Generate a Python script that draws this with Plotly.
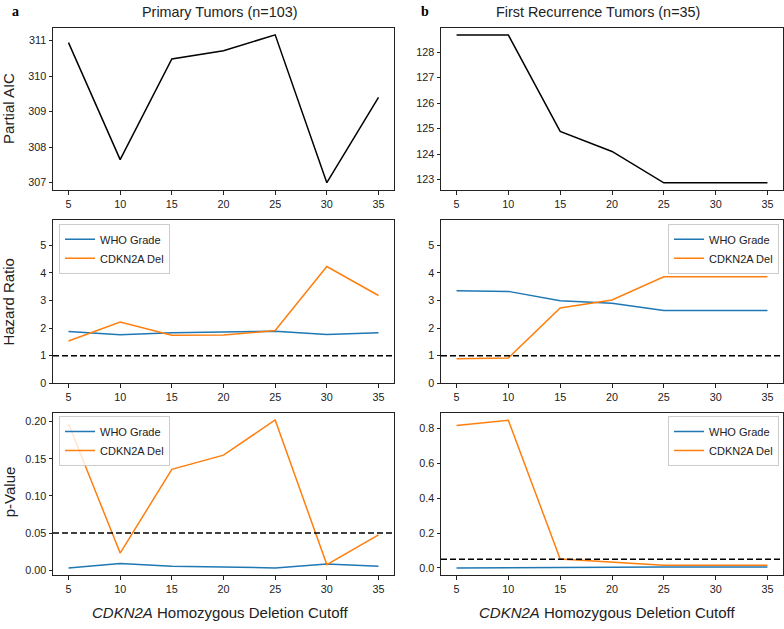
import plotly.graph_objects as go
from plotly.subplots import make_subplots

cutoffs = [5, 10, 15, 20, 25, 30, 35]

# Partial AIC
aic_primary = [310.94, 307.65, 310.48, 310.71, 311.16, 307.0, 309.40]
aic_recur = [128.67, 128.67, 124.89, 124.10, 122.87, 122.87, 122.87]

# Hazard ratios
hr_who_primary = [1.88, 1.76, 1.83, 1.87, 1.89, 1.77, 1.83]
hr_cdkn_primary = [1.53, 2.22, 1.74, 1.75, 1.91, 4.23, 3.18]
hr_who_recur = [3.35, 3.33, 2.99, 2.90, 2.64, 2.64, 2.64]
hr_cdkn_recur = [0.89, 0.92, 2.73, 3.02, 3.86, 3.86, 3.86]

# p-values
p_who_primary = [0.0031, 0.0089, 0.0053, 0.0040, 0.0031, 0.0084, 0.0053]
p_cdkn_primary = [0.197, 0.023, 0.1357, 0.1548, 0.2022, 0.0075, 0.0475]
p_who_recur = [0.000, 0.000, 0.002, 0.004, 0.006, 0.006, 0.006]
p_cdkn_recur = [0.817, 0.847, 0.051, 0.034, 0.015, 0.015, 0.015]

hr_ref = 1.0
p_ref = 0.05

col_titles = ["Primary Tumors (n=103)", "First Recurrence Tumors (n=35)"]
row_titles = ["Partial AIC", "Hazard Ratio", "p-Value"]
series_names = ["WHO Grade", "CDKN2A Del"]

W, H = 784, 629
BLUE = "#1f77b4"
ORANGE = "#ff7f0e"
FONT = "Liberation Sans"
TXT = "#222222"

fig = make_subplots(rows=3, cols=2)

def px_x(a, b):
    return [a / W, b / W]

def px_y(top, bottom):
    return [1 - bottom / H, 1 - top / H]

xdom = [px_x(53, 394), px_x(441, 783)]
ydom = [px_y(28, 192), px_y(222, 387), px_y(417, 581)]

# Row 1
fig.add_trace(go.Scatter(x=cutoffs, y=aic_primary, mode="lines",
                         line=dict(color="black", width=1.5), showlegend=False), row=1, col=1)
fig.add_trace(go.Scatter(x=cutoffs, y=aic_recur, mode="lines",
                         line=dict(color="black", width=1.5), showlegend=False), row=1, col=2)

# Row 2
for col, (who, cd, lg) in enumerate([(hr_who_primary, hr_cdkn_primary, "legend"),
                                      (hr_who_recur, hr_cdkn_recur, "legend2")], start=1):
    fig.add_trace(go.Scatter(x=cutoffs, y=who, mode="lines", name=series_names[0],
                             line=dict(color=BLUE, width=1.5), legend=lg), row=2, col=col)
    fig.add_trace(go.Scatter(x=cutoffs, y=cd, mode="lines", name=series_names[1],
                             line=dict(color=ORANGE, width=1.5), legend=lg), row=2, col=col)
    fig.add_hline(y=hr_ref, line=dict(color="black", width=1.5, dash="6px,3px"), row=2, col=col)

# Row 3
for col, (who, cd, lg) in enumerate([(p_who_primary, p_cdkn_primary, "legend3"),
                                      (p_who_recur, p_cdkn_recur, "legend4")], start=1):
    fig.add_trace(go.Scatter(x=cutoffs, y=who, mode="lines", name=series_names[0],
                             line=dict(color=BLUE, width=1.5), legend=lg), row=3, col=col)
    fig.add_trace(go.Scatter(x=cutoffs, y=cd, mode="lines", name=series_names[1],
                             line=dict(color=ORANGE, width=1.5), legend=lg), row=3, col=col)
    fig.add_hline(y=p_ref, line=dict(color="black", width=1.5, dash="6px,3px"), row=3, col=col)

axis_common = dict(showline=True, mirror=True, linecolor=TXT, linewidth=1,
                   ticks="outside", ticklen=3.5, tickwidth=1, tickcolor=TXT,
                   showgrid=False, zeroline=False,
                   tickfont=dict(family=FONT, size=10.8, color=TXT))

yranges = {
    (1, 1): dict(range=[306.79, 311.36], tickvals=[307, 308, 309, 310, 311]),
    (1, 2): dict(range=[122.58, 128.96], tickvals=[123, 124, 125, 126, 127, 128]),
    (2, 1): dict(range=[0, 5.92], tickvals=[0, 1, 2, 3, 4, 5]),
    (2, 2): dict(range=[0, 5.92], tickvals=[0, 1, 2, 3, 4, 5]),
    (3, 1): dict(range=[-0.0071, 0.2115], tickvals=[0, 0.05, 0.10, 0.15, 0.20], tickformat=".2f"),
    (3, 2): dict(range=[-0.043, 0.889], tickvals=[0, 0.2, 0.4, 0.6, 0.8], tickformat=".1f"),
}

idx = 0
for r in range(1, 4):
    for c in range(1, 3):
        idx += 1
        sfx = "" if idx == 1 else str(idx)
        fig.layout["xaxis" + sfx].update(domain=xdom[c - 1], range=[3.5, 36.5],
                                         tickvals=cutoffs, **axis_common)
        fig.layout["yaxis" + sfx].update(domain=ydom[r - 1], **yranges[(r, c)], **axis_common)

legend_common = dict(bgcolor="rgba(255,255,255,0.8)", bordercolor="#cccccc", borderwidth=1,
                     font=dict(family=FONT, size=11, color=TXT),
                     itemwidth=30, tracegroupgap=0, yanchor="top")

fig.update_layout(
    legend=dict(x=59 / W, y=1 - 226 / H, xanchor="left", **legend_common),
    legend2=dict(x=779 / W, y=1 - 226 / H, xanchor="right", **legend_common),
    legend3=dict(x=59 / W, y=1 - 420 / H, xanchor="left", **legend_common),
    legend4=dict(x=779 / W, y=1 - 420 / H, xanchor="right", **legend_common),
)

annotations = []
# Column titles
for xc, t in zip([220, 598], col_titles):
    annotations.append(dict(x=xc / W, y=1 - 12 / H, xref="paper", yref="paper", text=t,
                            showarrow=False, xanchor="center", yanchor="middle",
                            font=dict(family=FONT, size=14.4, color=TXT)))
# Panel labels
for xc, t in zip([15, 425], ["a", "b"]):
    annotations.append(dict(x=xc / W, y=1 - 12 / H, xref="paper", yref="paper",
                            text="<b>" + t + "</b>", showarrow=False,
                            xanchor="center", yanchor="middle",
                            font=dict(family="Liberation Serif", size=14, color="black")))
# Row titles
for yc, t in zip([110, 304.5, 497], row_titles):
    annotations.append(dict(x=9 / W, y=1 - yc / H, xref="paper", yref="paper", text=t,
                            textangle=-90, showarrow=False, xanchor="center", yanchor="middle",
                            font=dict(family=FONT, size=15, color=TXT)))
# X-axis titles
for xc in [220.5, 607.5]:
    annotations.append(dict(x=xc / W, y=1 - 618 / H, xref="paper", yref="paper",
                            text="<i>CDKN2A</i> Homozygous Deletion Cutoff",
                            showarrow=False, xanchor="center", yanchor="middle",
                            font=dict(family=FONT, size=15, color=TXT)))

fig.update_layout(
    width=W, height=H,
    margin=dict(l=0, r=0, t=0, b=0),
    paper_bgcolor="white", plot_bgcolor="white",
    annotations=annotations,
    font=dict(family=FONT),
)

fig.write_html("out.html", config={"displayModeBar": False},
               post_script="document.body.style.margin='0px';")
